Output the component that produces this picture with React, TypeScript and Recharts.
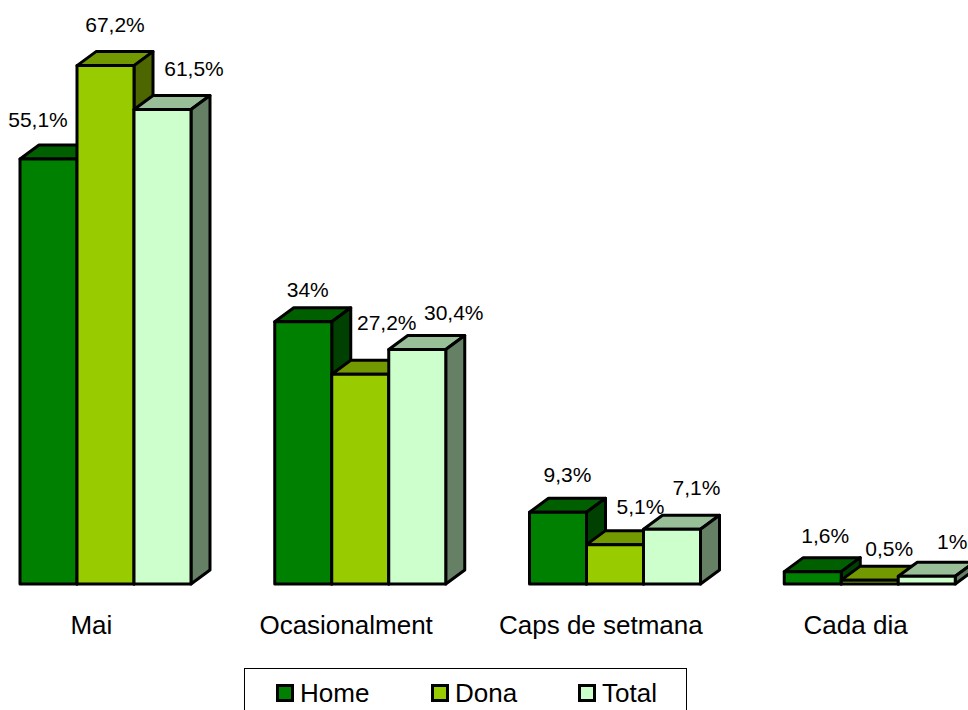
import { BarChart, Bar, XAxis, YAxis, Legend, LabelList } from "recharts";

const categories = ["Mai", "Ocasionalment", "Caps de setmana", "Cada dia"];
const home = [55.1, 34, 9.3, 1.6];
const dona = [67.2, 27.2, 5.1, 0.5];
const total = [61.5, 30.4, 7.1, 1];

const data = categories.map((name, i) => ({
  name,
  Home: home[i],
  Dona: dona[i],
  Total: total[i],
}));

const FONT = "'Liberation Sans', Arial, sans-serif";
const DEPTH_X = 19;
const DEPTH_Y = 14;

// label nudges, the original has them hand placed: [dx from bar centre, rise above bar top]
const homeLabelNudge = [[-10.5, 39], [4.5, 32], [9.5, 38], [12.5, 36]];
const donaLabelNudge = [[9.5, 41], [26.5, 52], [25.5, 38], [19.5, 32]];
const totalLabelNudge = [[31.5, 41], [36.5, 37], [24.5, 42], [25.5, 35]];

function Bar3D({ x, y, width, height, fill, top, side }: any) {
  const x2 = x + width;
  const y2 = y + height;
  const common = { stroke: "#000", strokeWidth: 3, strokeLinejoin: "round" as const };
  return (
    <g>
      <polygon
        points={`${x},${y} ${x + DEPTH_X},${y - DEPTH_Y} ${x2 + DEPTH_X},${y - DEPTH_Y} ${x2},${y}`}
        fill={top}
        {...common}
      />
      <polygon
        points={`${x2},${y} ${x2 + DEPTH_X},${y - DEPTH_Y} ${x2 + DEPTH_X},${y2 - DEPTH_Y} ${x2},${y2}`}
        fill={side}
        {...common}
      />
      <rect x={x} y={y} width={width} height={height} fill={fill} {...common} />
    </g>
  );
}

function formatPct(v: number) {
  return String(v).replace(".", ",") + "%";
}

function barLabel(nudge: number[][]) {
  return ({ x, y, width, value, index }: any) => (
    <text
      x={x + width / 2 + nudge[index][0]}
      y={y - nudge[index][1]}
      textAnchor="middle"
      dominantBaseline="central"
      fontSize={21}
      fontFamily={FONT}
      fill="#000"
    >
      {formatPct(value)}
    </text>
  );
}

function CategoryTick({ x, payload }: any) {
  return (
    <text
      x={x - 14}
      y={625}
      textAnchor="middle"
      dominantBaseline="central"
      fontSize={26}
      fontFamily={FONT}
      fill="#000"
    >
      {payload.value}
    </text>
  );
}

const legendLefts = [31, 186, 333];

function LegendBox({ payload }: any) {
  return (
    <div
      style={{
        position: "relative",
        width: 443,
        height: 60,
        boxSizing: "border-box",
        border: "1px solid #000",
        background: "#fff",
        fontFamily: FONT,
        fontSize: 26,
      }}
    >
      {(payload ?? []).map((item: any, i: number) => (
        <div
          key={item.value}
          style={{ position: "absolute", left: legendLefts[i], top: 9, display: "flex", alignItems: "center" }}
        >
          <span
            style={{
              display: "inline-block",
              width: 18,
              height: 18,
              boxSizing: "border-box",
              border: "3px solid #000",
              background: item.color,
              marginRight: 6,
            }}
          />
          <span style={{ lineHeight: "30px" }}>{item.value}</span>
        </div>
      ))}
    </div>
  );
}

export default function App() {
  return (
    <div style={{ position: "fixed", left: 0, top: 0, width: 968, height: 710, overflow: "hidden", background: "#fff" }}>
      <div style={{ position: "absolute", left: -22, top: 0 }}>
        <BarChart
          width={1040}
          height={710}
          data={data}
          barSize={57}
          barGap={0}
          margin={{ top: 44, right: 21, bottom: 0, left: 0 }}
        >
          <XAxis dataKey="name" height={126} axisLine={false} tickLine={false} interval={0} tick={<CategoryTick />} />
          <YAxis hide domain={[0, 70]} />
          <Legend
            layout="vertical"
            align="center"
            verticalAlign="middle"
            itemSorter={null}
            content={<LegendBox />}
            wrapperStyle={{ position: "absolute", left: 266, top: 668, width: 443, margin: 0 }}
          />
          <Bar
            dataKey="Home"
            fill="#008000"
            isAnimationActive={false}
            shape={(p: any) => <Bar3D {...p} top="#006000" side="#004000" />}
          >
            <LabelList content={barLabel(homeLabelNudge)} />
          </Bar>
          <Bar
            dataKey="Dona"
            fill="#99cc00"
            isAnimationActive={false}
            shape={(p: any) => <Bar3D {...p} top="#739900" side="#4d6600" />}
          >
            <LabelList content={barLabel(donaLabelNudge)} />
          </Bar>
          <Bar
            dataKey="Total"
            fill="#ccffcc"
            isAnimationActive={false}
            shape={(p: any) => <Bar3D {...p} top="#99bf99" side="#668066" />}
          >
            <LabelList content={barLabel(totalLabelNudge)} />
          </Bar>
        </BarChart>
      </div>
    </div>
  );
}
